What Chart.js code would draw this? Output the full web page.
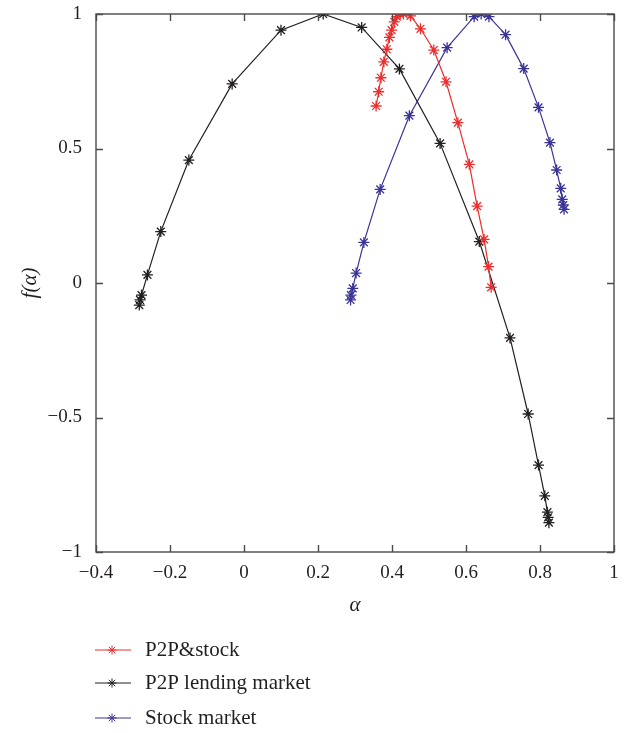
<!DOCTYPE html>
<html>
<head>
<meta charset="utf-8">
<script src="https://cdn.jsdelivr.net/npm/chart.js@4.4.1/dist/chart.umd.min.js"></script>
<style>
  html, body { margin: 0; padding: 0; background: #fff; }
  #wrap { width: 629px; height: 733px; }
</style>
</head>
<body>
<div id="wrap"><canvas id="spectrum"></canvas></div>
<script>
// multifractal spectrum f(alpha) for three series
const seriesNames = ["P2P&stock", "P2P lending market", "Stock market"];

const mixAlpha = [0.357, 0.364, 0.370, 0.378, 0.386, 0.393, 0.399, 0.406, 0.413, 0.422, 0.431, 0.450, 0.477, 0.513, 0.546, 0.578, 0.609, 0.630, 0.649, 0.661, 0.668];
const mixF     = [0.658, 0.711, 0.763, 0.822, 0.869, 0.913, 0.940, 0.971, 0.990, 1.000, 1.000, 0.993, 0.945, 0.866, 0.748, 0.596, 0.441, 0.286, 0.162, 0.061, -0.016];

const p2pAlpha = [-0.283, -0.281, -0.277, -0.261, -0.225, -0.149, -0.032, 0.100, 0.214, 0.318, 0.420, 0.530, 0.636, 0.719, 0.768, 0.796, 0.813, 0.820, 0.822, 0.824];
const p2pF     = [-0.082, -0.063, -0.045, 0.030, 0.191, 0.457, 0.740, 0.940, 1.000, 0.950, 0.796, 0.519, 0.154, -0.204, -0.487, -0.677, -0.791, -0.852, -0.871, -0.891];

const stockAlpha = [0.288, 0.289, 0.294, 0.303, 0.324, 0.368, 0.447, 0.549, 0.622, 0.641, 0.662, 0.707, 0.756, 0.796, 0.827, 0.845, 0.856, 0.860, 0.863, 0.865];
const stockF     = [-0.063, -0.045, -0.020, 0.037, 0.151, 0.348, 0.622, 0.875, 0.990, 1.000, 0.990, 0.923, 0.797, 0.653, 0.522, 0.420, 0.352, 0.311, 0.290, 0.274];

const xTicks = [-0.4, -0.2, 0, 0.2, 0.4, 0.6, 0.8, 1];
const yTicks = [-1, -0.5, 0, 0.5, 1];

const colors = ["#ee2c2c", "#231f20", "#3a3397"];

function pts(xs, ys) { return xs.map((x, i) => ({ x: x, y: ys[i] })); }

const serif = "'Liberation Serif', 'DejaVu Serif', serif";
const fmt = v => String(Math.round(v * 10) / 10).replace('-', '\u2212');

// inward ticks on all four sides + frame, and the legend underneath
const framePlugin = {
  id: 'frame',
  afterDraw(chart) {
    const c = chart.ctx, a = chart.chartArea;
    const xs = chart.scales.x, ys = chart.scales.y;
    const tl = 7;
    c.save();
    c.strokeStyle = '#4a4a4a';
    c.lineWidth = 1.4;
    c.strokeRect(a.left, a.top, a.right - a.left, a.bottom - a.top);
    c.beginPath();
    xTicks.forEach(v => {
      const px = Math.round(xs.getPixelForValue(v)) + 0.5;
      c.moveTo(px, a.bottom); c.lineTo(px, a.bottom - tl);
      c.moveTo(px, a.top); c.lineTo(px, a.top + tl);
    });
    yTicks.forEach(v => {
      const py = Math.round(ys.getPixelForValue(v)) + 0.5;
      c.moveTo(a.left, py); c.lineTo(a.left + tl, py);
      c.moveTo(a.right, py); c.lineTo(a.right - tl, py);
    });
    c.stroke();

    // legend
    const rows = [a.bottom + 98, a.bottom + 131, a.bottom + 166];
    chart.data.datasets.forEach((ds, i) => {
      const y = rows[i];
      c.strokeStyle = ds.borderColor;
      c.lineWidth = 1;
      c.beginPath();
      c.moveTo(95, y); c.lineTo(131, y);
      c.stroke();
      Chart.helpers.drawPoint(c, { pointStyle: 'star', radius: 4.5, borderWidth: 1 }, 112, y);
      c.fillStyle = '#231f20';
      c.font = "21px " + serif;
      c.textBaseline = 'middle';
      c.textAlign = 'left';
      c.fillText(ds.label, 145, y);
    });
    c.restore();
  }
};

const ctx = document.getElementById("spectrum").getContext("2d");
const chart = new Chart(ctx, {
  type: "scatter",
  data: {
    datasets: [
      { label: seriesNames[0], data: pts(mixAlpha, mixF), borderColor: colors[0], backgroundColor: colors[0] },
      { label: seriesNames[1], data: pts(p2pAlpha, p2pF), borderColor: colors[1], backgroundColor: colors[1] },
      { label: seriesNames[2], data: pts(stockAlpha, stockF), borderColor: colors[2], backgroundColor: colors[2] }
    ].map(d => Object.assign(d, {
      showLine: true,
      borderWidth: 1.2,
      pointStyle: 'star',
      pointRadius: 5.5,
      pointBorderWidth: 1.3,
      pointHoverRadius: 5.5
    }))
  },
  options: {
    responsive: true,
    maintainAspectRatio: false,
    animation: false,
    layout: { padding: { left: 18, right: 15, top: 14, bottom: 111 } },
    plugins: { legend: { display: false }, tooltip: { enabled: false } },
    scales: {
      x: {
        type: 'linear', min: -0.4, max: 1,
        afterBuildTicks: s => { s.ticks = xTicks.map(v => ({ value: v })); },
        afterFit: s => { s.height = 70; },
        grid: { display: false, drawTicks: false },
        border: { display: false },
        ticks: { color: '#231f20', padding: 10, font: { family: serif, size: 19 }, callback: fmt, maxRotation: 0 },
        title: { display: true, text: 'α', color: '#231f20', padding: { top: 0, bottom: 4 },
                 font: { family: serif, size: 21, style: 'italic' } }
      },
      y: {
        type: 'linear', min: -1, max: 1,
        afterBuildTicks: s => { s.ticks = yTicks.map(v => ({ value: v })); },
        afterFit: s => { s.width = 78; s.paddingTop = 6; s.paddingBottom = 6; },
        grid: { display: false, drawTicks: false },
        border: { display: false },
        ticks: { color: '#231f20', padding: 14, font: { family: serif, size: 19 }, callback: fmt },
        title: { display: true, text: 'f(α)', color: '#231f20', padding: { top: 0, bottom: 0 },
                 font: { family: serif, size: 21, style: 'italic' } }
      }
    }
  },
  plugins: [framePlugin]
});
</script>
</body>
</html>
